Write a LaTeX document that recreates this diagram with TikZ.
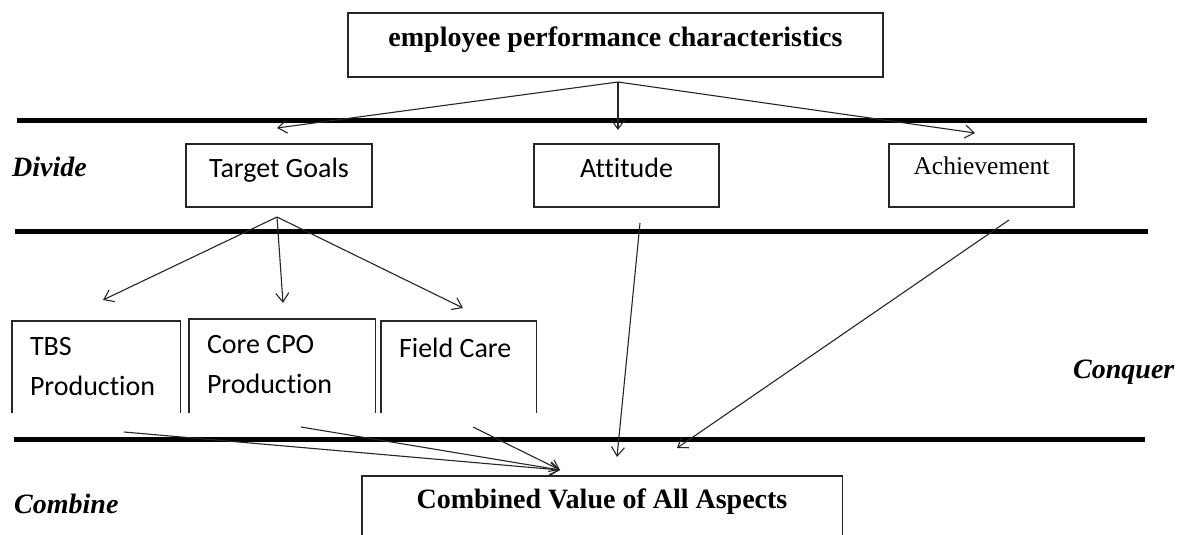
\documentclass[tikz,border=0pt]{standalone}
\usepackage{fontspec}
\setmainfont{Liberation Serif}
\newfontfamily\boxfont[Ligatures={NoCommon}]{Carlito}
\usetikzlibrary{arrows.meta}

\tikzset{
  box/.style={draw=black!85,line width=1.4pt,inner ysep=0pt,inner xsep=0pt},
  openbox/.style={inner ysep=0pt,inner xsep=18pt,align=flush left},
  sidebox/.style={draw=black!85,line width=1.4pt},
  divider/.style={line width=5pt},
  arr/.style={line width=1.1pt,draw=black!85,-{Straight Barb[length=9pt,width=13pt]}},
  stage/.style={anchor=base west,inner sep=0pt,font=\bfseries\itshape\fontsize{28}{34}\selectfont},
  calib/.style={font=\boxfont\fontsize{28}{40}\selectfont}
}

\begin{document}
\begin{tikzpicture}[x=1pt,y=-1pt]
  \useasboundingbox (0,0) rectangle (1181,535);

  % horizontal bands
  \draw[divider] (17,120)--(1147,120);
  \draw[divider] (15,231)--(1148,231);
  \draw[divider] (14,439)--(1145,439);

  \node[stage] (divide) at (12,176) {Divide};
  \node[stage] (conquer) at (1073,378) {Conquer};
  \node[stage] (combine) at (14,513) {Combine};

  % top level
  \node[box,anchor=base,minimum width=535pt,text height=34pt,text depth=30pt,
        font=\bfseries\fontsize{28}{34}\selectfont] (emp) at (615.5,47) {employee performance characteristics};

  % divide level
  \node[box,calib,anchor=base,minimum width=186pt,text height=33pt,text depth=30pt] (tg) at (279,177) {Target Goals};
  \node[box,calib,anchor=base,minimum width=185pt,text height=33pt,text depth=30pt] (att) at (626.5,177) {Attitude};
  \node[box,anchor=base,minimum width=185pt,text height=30pt,text depth=33pt,
        font=\fontsize{25.5}{30}\selectfont] (ach) at (981.5,174) {Achievement};

  % sub goals, boxes open at the bottom
  \node[openbox,calib,anchor=base,text width=132pt,text height=34pt,text depth=58pt] (tbs) at (96,355) {TBS\\Production};
  \node[openbox,calib,anchor=base,text width=150pt,text height=34pt,text depth=60pt] (core) at (282,353) {Core CPO\\Production};
  \node[openbox,calib,anchor=base,text width=119pt,text height=36pt,text depth=56pt] (field) at (458.5,357) {Field Care};
  \draw[sidebox] (tbs.south west) |- (tbs.north east) -- (tbs.south east);
  \draw[sidebox] (core.south west) |- (core.north east) -- (core.south east);
  \draw[sidebox] (field.south west) |- (field.north east) -- (field.south east);

  % result
  \node[anchor=base,inner sep=0pt,minimum width=480pt,text height=32pt,text depth=27pt,
        font=\bfseries\fontsize{28}{34}\selectfont] (comb) at (602,508) {Combined Value of All Aspects};
  \draw[sidebox] (comb.south west) |- (comb.north east) -- (comb.south east);

  % arrow ends
  \coordinate (empFoot) at (618,82);
  \coordinate (tgHead) at (277,128);
  \coordinate (attHead) at (618,130);
  \coordinate (achHead) at (975,133);
  \coordinate (tgFoot) at (277,217);
  \coordinate (tbsHead) at (103,300);
  \coordinate (coreHead) at (283,303);
  \coordinate (fieldHead) at (463,308);
  \coordinate (tbsFoot) at (124,432);
  \coordinate (coreFoot) at (301,427);
  \coordinate (fieldFoot) at (473,427);
  \coordinate (combHead) at (560,470);
  \coordinate (attFoot) at (640,223);
  \coordinate (attIn) at (617,457);
  \coordinate (achFoot) at (1009,220);
  \coordinate (achIn) at (677,448);

  \draw[arr] (empFoot)--(tgHead);
  \draw[arr] (empFoot)--(attHead);
  \draw[arr] (empFoot)--(achHead);

  \draw[arr] (tgFoot)--(tbsHead);
  \draw[arr] (tgFoot)--(coreHead);
  \draw[arr] (tgFoot)--(fieldHead);

  \draw[arr] (tbsFoot)--(combHead);
  \draw[arr] (coreFoot)--(combHead);
  \draw[arr] (fieldFoot)--(combHead);
  \draw[arr] (attFoot)--(attIn);
  \draw[arr] (achFoot)--(achIn);
\end{tikzpicture}
\end{document}
